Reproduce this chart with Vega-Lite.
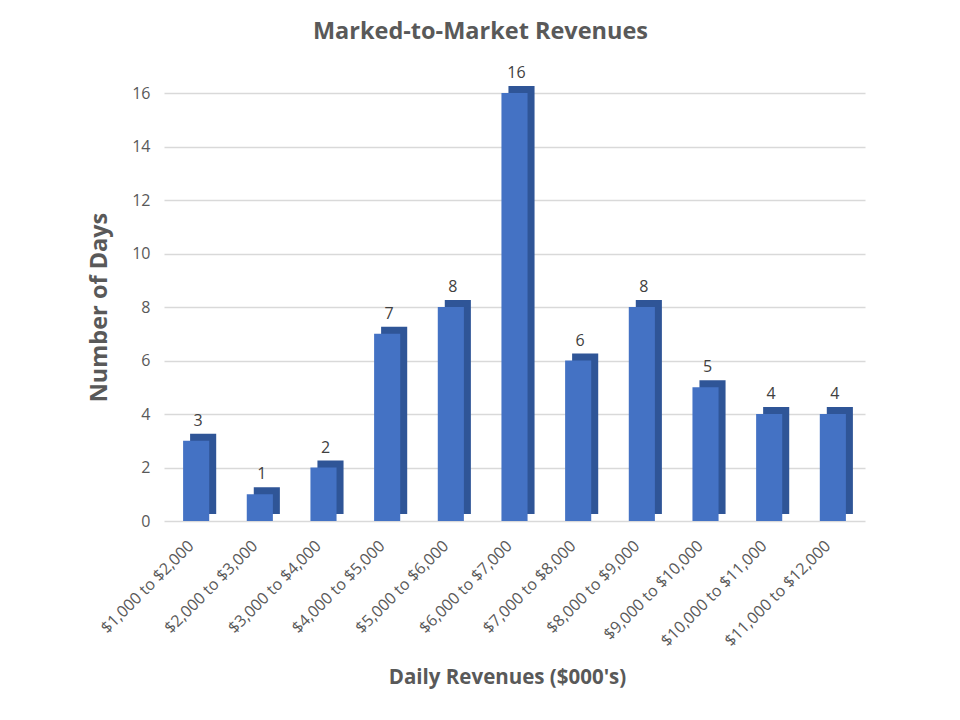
{
  "$schema": "https://vega.github.io/schema/vega-lite/v6.json",
  "width": 701,
  "height": 428,
  "autosize": {"type": "none"},
  "padding": {"left": 164, "top": 93, "right": 95, "bottom": 199},
  "background": "white",
  "config": {
    "font": "Open Sans",
    "view": {"stroke": null}
  },
  "title": {
    "text": "Marked-to-Market Revenues",
    "fontSize": 23.5,
    "fontWeight": "bold",
    "color": "#595959",
    "anchor": "middle",
    "dx": -34,
    "offset": 22
  },
  "data": {
    "values": [
      {"range": "$1,000 to $2,000", "days": 3},
      {"range": "$2,000 to $3,000", "days": 1},
      {"range": "$3,000 to $4,000", "days": 2},
      {"range": "$4,000 to $5,000", "days": 7},
      {"range": "$5,000 to $6,000", "days": 8},
      {"range": "$6,000 to $7,000", "days": 16},
      {"range": "$7,000 to $8,000", "days": 6},
      {"range": "$8,000 to $9,000", "days": 8},
      {"range": "$9,000 to $10,000", "days": 5},
      {"range": "$10,000 to $11,000", "days": 4},
      {"range": "$11,000 to $12,000", "days": 4}
    ]
  },
  "encoding": {
    "x": {
      "field": "range",
      "type": "nominal",
      "sort": null,
      "scale": {"paddingInner": 0.59, "paddingOuter": 0.3},
      "axis": {
        "title": "Daily Revenues ($000's)",
        "titleFontSize": 20.5,
        "titleFontWeight": "bold",
        "titleColor": "#595959",
        "titleY": 156,
        "titleX": 343,
        "titleBaseline": "middle",
        "labelAngle": -45,
        "labelAlign": "right",
        "labelBaseline": "middle",
        "labelFontSize": 16,
        "labelColor": "#595959",
        "labelPadding": 22,
        "labelOffset": -5,
        "domain": false,
        "ticks": false,
        "grid": false
      }
    },
    "y": {
      "field": "days",
      "type": "quantitative",
      "scale": {"domain": [0, 16], "nice": false},
      "axis": {
        "title": "Number of Days",
        "titleFontSize": 23.5,
        "titleFontWeight": "bold",
        "titleColor": "#595959",
        "titlePadding": 20,
        "values": [0, 2, 4, 6, 8, 10, 12, 14, 16],
        "labelFontSize": 16,
        "labelColor": "#595959",
        "labelPadding": 14,
        "domain": false,
        "ticks": false,
        "grid": true,
        "gridColor": "#D9D9D9",
        "gridWidth": 1.5
      }
    }
  },
  "layer": [
    {
      "mark": {"type": "bar", "color": "#2F5597", "xOffset": 7, "yOffset": -7}
    },
    {
      "mark": {"type": "bar", "color": "#4472C4"}
    },
    {
      "mark": {"type": "text", "baseline": "bottom", "dy": -12, "dx": 2, "fontSize": 16, "color": "#404040"},
      "encoding": {"text": {"field": "days", "type": "quantitative"}}
    }
  ]
}
